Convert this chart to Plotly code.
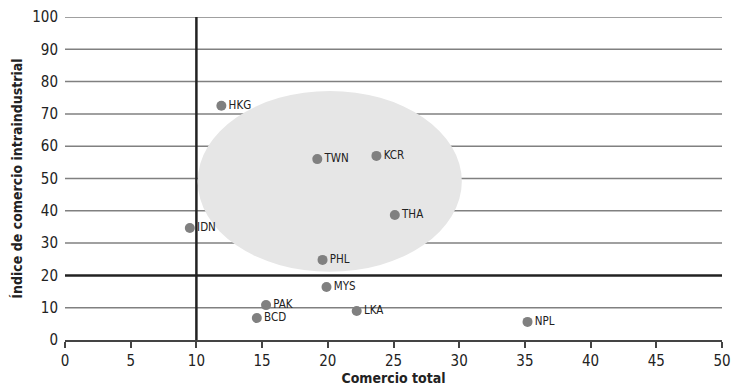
import plotly.graph_objects as go

countries = ["HKG", "TWN", "KCR", "THA", "IDN", "PHL", "MYS", "PAK", "BCD", "LKA", "NPL"]
comercio_total = [11.9, 19.2, 23.7, 25.1, 9.5, 19.6, 19.9, 15.3, 14.6, 22.2, 35.2]
indice_intra = [72.5, 56.0, 57.0, 38.7, 34.7, 24.8, 16.4, 10.8, 6.8, 9.0, 5.6]
x_ticks = [0, 5, 10, 15, 20, 25, 30, 35, 40, 45, 50]
y_ticks = [0, 10, 20, 30, 40, 50, 60, 70, 80, 90, 100]

FONT = "DejaVu Sans Condensed, Liberation Sans Narrow, Roboto, sans-serif"

fig = go.Figure()
fig.add_trace(go.Scatter(
    x=comercio_total, y=indice_intra, text=countries,
    mode="markers+text", textposition="middle right",
    marker=dict(color="#808080", size=10),
    textfont=dict(family=FONT, size=11.5, color="#222222"),
    cliponaxis=False, showlegend=False,
))

shapes = [
    dict(type="circle", xref="x", yref="y", x0=10.1, x1=30.2, y0=21.1, y1=77.1,
         fillcolor="#e6e6e6", line=dict(width=0), layer="below"),
]
for v in y_ticks[1:]:
    if v == 20:
        continue
    shapes.append(dict(type="line", xref="paper", yref="y", x0=0, x1=1, y0=v, y1=v,
                       line=dict(color="#808080", width=1.5), layer="below"))
shapes.append(dict(type="line", xref="paper", yref="y", x0=0, x1=1, y0=20, y1=20,
                   line=dict(color="#222222", width=2.5), layer="below"))
shapes.append(dict(type="line", xref="x", yref="paper", x0=10, x1=10, y0=0, y1=1,
                   line=dict(color="#222222", width=2.5), layer="below"))
fig.update_layout(shapes=shapes)

fig.update_layout(
    width=733, height=386,
    margin=dict(l=65, r=11, t=17, b=46, autoexpand=False),
    plot_bgcolor="white", paper_bgcolor="white",
    font=dict(family=FONT, size=14, color="#222222"),
    xaxis=dict(range=[0, 50], tickvals=x_ticks, showgrid=False, zeroline=False,
               showline=True, linecolor="#444444", linewidth=1.5,
               ticks="outside", ticklen=6, tickcolor="#444444", tickwidth=1.5,
               tickfont=dict(size=15), automargin=False,
               title=dict(text="<b>Comercio total</b>", font=dict(size=14), standoff=4)),
    yaxis=dict(range=[0, 100], tickvals=y_ticks, showgrid=False, zeroline=False,
               showline=False, ticks="", tickfont=dict(size=15), ticklabelstandoff=6,
               automargin=False,
               title=dict(text="<b>Índice de comercio intraindustrial</b>", font=dict(size=14), standoff=6)),
)

fig.write_html("out.html", config={"displayModeBar": False},
               post_script="document.body.style.margin='0';document.body.style.overflow='hidden';")
